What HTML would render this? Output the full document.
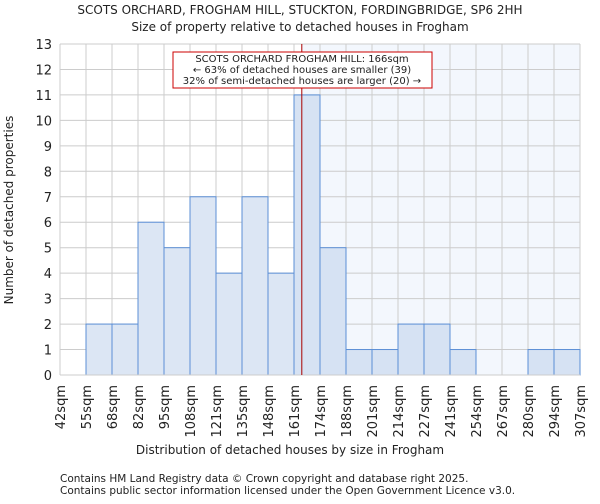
<!DOCTYPE html>
<html><head><meta charset="utf-8"><style>
body{margin:0;background:#fff;font-family:"DejaVu Sans","Liberation Sans",sans-serif;}
svg text{font-family:"DejaVu Sans","Liberation Sans",sans-serif;fill:#222;}
</style></head><body>
<svg id="c" width="600" height="500">
<text x="300" y="14" font-size="12" text-anchor="middle">SCOTS ORCHARD, FROGHAM HILL, STUCKTON, FORDINGBRIDGE, SP6 2HH</text>
<text x="300" y="31" font-size="12" text-anchor="middle">Size of property relative to detached houses in Frogham</text>
<g id="g"></g>
<text x="290" y="454" font-size="12" text-anchor="middle">Distribution of detached houses by size in Frogham</text>
<text transform="translate(13,210) rotate(-90)" font-size="12" text-anchor="middle">Number of detached properties</text>
<text x="60" y="482" font-size="10.5">Contains HM Land Registry data © Crown copyright and database right 2025.</text>
<text x="60" y="494" font-size="10.5">Contains public sector information licensed under the Open Government Licence v3.0.</text>
</svg>
<script>
const binLabels=["42sqm","55sqm","68sqm","82sqm","95sqm","108sqm","121sqm","135sqm","148sqm","161sqm","174sqm","188sqm","201sqm","214sqm","227sqm","241sqm","254sqm","267sqm","280sqm","294sqm","307sqm"];
const counts=[0,2,2,6,5,7,4,7,4,11,5,1,1,2,2,1,0,0,1,1];
const yTicks=[0,1,2,3,4,5,6,7,8,9,10,11,12,13];
const propertyBinPos=[9.3];
const L=60,R=580,T=44,B=375,yMax=13;
const n=counts.length,bw=(R-L)/n;
const xs=i=>L+i*bw, ys=v=>B-(v/yMax)*(B-T);
const NS="http://www.w3.org/2000/svg",g=document.getElementById('g');
function mk(t,a){const e=document.createElementNS(NS,t);for(const k in a)e.setAttribute(k,a[k]);g.appendChild(e);return e;}
const px=xs(propertyBinPos[0]);
let e=mk('rect',{x:px,y:T,width:R-px,height:B-T,fill:'#f3f7fd'});


yTicks.forEach(v=>{let l=mk('line',{x1:L,x2:R,y1:ys(v),y2:ys(v),stroke:'#cccccc'});


let t=mk('text',{x:L-8,y:ys(v)+5,'font-size':13,'text-anchor':'end'});t.textContent=v;

});
binLabels.forEach((s,i)=>{let l=mk('line',{x1:xs(i),x2:xs(i),y1:T,y2:B,stroke:'#cccccc'});


let t=mk('text',{transform:`translate(${xs(i)+5},${B+10}) rotate(-90)`,'font-size':13,'text-anchor':'end'});t.textContent=s;

});
counts.forEach((v,i)=>{if(!v)return;const x=xs(i),right=x+bw>px;
let r=mk('rect',{x:x,y:ys(v),width:bw,height:B-ys(v),fill:right&&x>=px-bw?'#d6e2f3':'#dce6f4',stroke:'#5b8fd6','stroke-width':1});

});
let ax=mk('line',{x1:L,x2:R,y1:B,y2:B,stroke:'#cccccc'});


let ml=mk('line',{x1:px,x2:px,y1:T,y2:B,stroke:'#aa0000','stroke-width':1});


let bx=mk('rect',{x:173,y:52,width:259,height:36,fill:'#fff',stroke:'#cc0000'});


["SCOTS ORCHARD FROGHAM HILL: 166sqm","← 63% of detached houses are smaller (39)","32% of semi-detached houses are larger (20) →"].forEach((s,i)=>{
let t=mk('text',{x:302,y:62+i*11,'font-size':10,'text-anchor':'middle'});t.textContent=s;

});
</script>
</body></html>
